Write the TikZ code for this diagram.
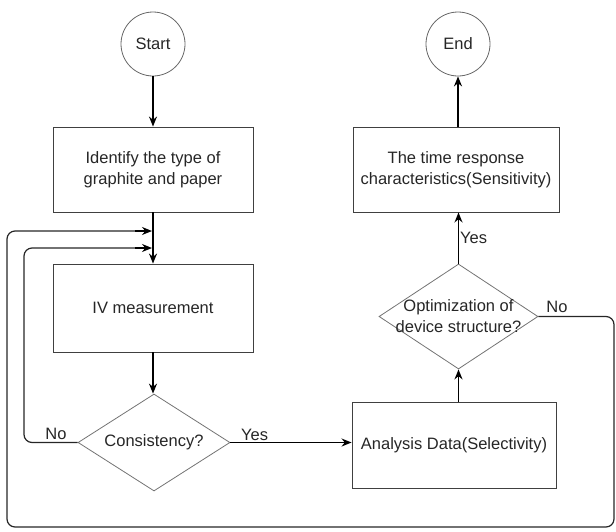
\documentclass[tikz,border=0pt]{standalone}
\usepackage{fontspec}
\setmainfont{Liberation Sans}
\usetikzlibrary{shapes.geometric,arrows.meta}
\begin{document}
\begin{tikzpicture}[x=1pt,y=-1pt,
  every node/.style={font=\fontsize{16.5}{21}\selectfont, text=black!85},
  procbox/.style={draw=black!75, line width=0.9pt, minimum width=200pt, minimum height=85pt, inner sep=0pt, align=center},
  term/.style={circle, draw=black!60, line width=0.8pt, minimum size=64pt, inner sep=0pt},
  decision/.style={diamond, draw=black!55, line width=0.8pt, inner sep=0pt},
  flow/.style={line width=1.4pt, -{Stealth[length=10pt,width=8pt]}},
  loop/.style={line width=1.2pt, black!85, rounded corners=8pt},
  lbl/.style={inner sep=1pt}
]
\useasboundingbox (0,0) rectangle (616,531);
\node[term] (start) at (153,44) {Start};
\node[term] (end) at (458,44) {End};
\node[procbox] (b1) at (153,169.5) {Identify the type of\\graphite and paper};
\node[procbox, minimum height=88pt] (b2) at (153,308) {IV measurement};
\node[decision, minimum width=152pt, minimum height=97pt] (d1) at (154,442.5) {};
\node (t1) at (d1.center) {Consistency?};
\node[procbox, minimum width=204pt, minimum height=86pt] (b3) at (454,445) {Analysis Data(Selectivity)};
\node[decision, minimum width=159pt, minimum height=105pt] (d2) at (458.5,316.5) {};
\node[align=center] (t2) at (d2.center) {Optimization of\\device structure?};
\node[procbox, minimum width=206pt] (b4) at (456,169.5) {The time response\\characteristics(Sensitivity)};

\draw[flow] (start) -- (b1);
\draw[flow] (b1) -- (b2);
\draw[flow] (b2) -- (d1.north -| b2.south);
\draw[flow] (d1.east) -- node[lbl, above, pos=0.2] {Yes} (b3.west |- d1.east);
\draw[flow] (b3.north -| d2.south) -- (d2.south);
\draw[flow] (d2.north) -- node[lbl, right, pos=0.5] {Yes} (b4.south -| d2.north);
\draw[flow] (b4.north -| end.south) -- (end.south);

\coordinate (p1) at (614,316.5);
\coordinate (p2) at (614,527);
\coordinate (p3) at (7,527);
\coordinate (p4) at (7,231);
\coordinate (q1) at (24,442.5);
\coordinate (q2) at (24,248);
\draw[loop] (d2.east) -- (p1) -- (p2) -- (p3) -- (p4) -- (145,231);
\draw[flow] (135,231) -- (152,231);
\draw[loop] (d1.west) -- (q1) -- (q2) -- (145,248);
\draw[flow] (135,248) -- (152,248);
\node[lbl, anchor=south] (no1) at (56,441) {No};
\node[lbl, anchor=south] (no2) at (557,314) {No};
\end{tikzpicture}
\end{document}
